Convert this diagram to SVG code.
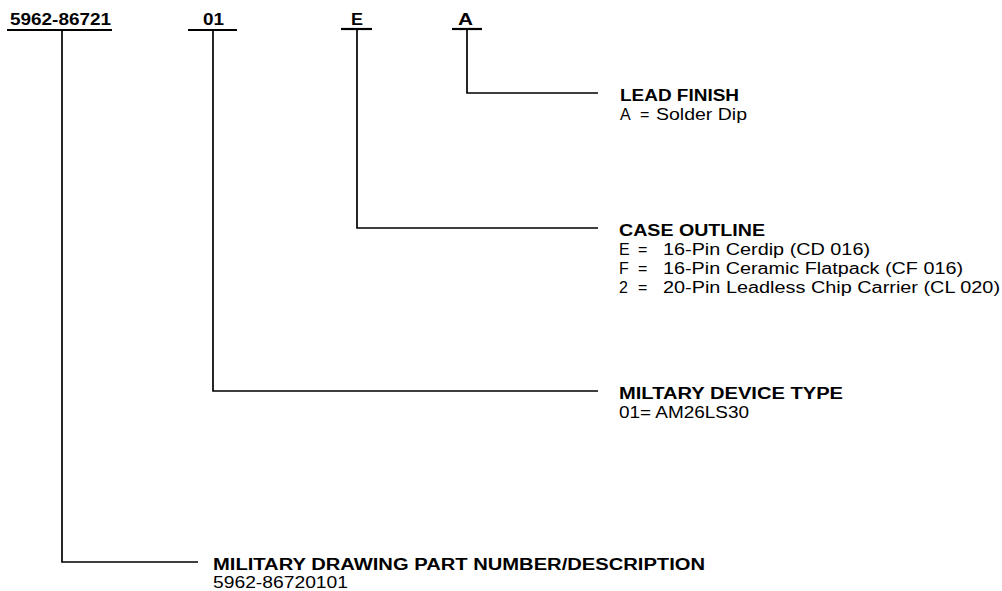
<svg xmlns="http://www.w3.org/2000/svg" width="1002" height="591" viewBox="0 0 1002 591">
<style>
text{font-family:"Liberation Sans",Arial,sans-serif;font-size:16px;fill:#000}
.b{font-weight:bold}
.ul{stroke:#000;stroke-width:2.2;fill:none}
.cn{stroke:#000;stroke-width:1.7;fill:none}
</style>
<rect width="1002" height="591" fill="#fff"/>
<g id="field-part">
<text class="b" x="10" y="25" textLength="101" lengthAdjust="spacingAndGlyphs">5962-86721</text>
<line class="ul" x1="7" y1="30" x2="112" y2="30"/>
</g>
<g id="field-type">
<text class="b" x="203" y="25" textLength="21" lengthAdjust="spacingAndGlyphs">01</text>
<line class="ul" x1="188" y1="30" x2="237" y2="30"/>
</g>
<g id="field-case">
<text class="b" x="351" y="25" textLength="12" lengthAdjust="spacingAndGlyphs">E</text>
<line class="ul" x1="341" y1="29" x2="372" y2="29"/>
</g>
<g id="field-finish">
<text class="b" x="458" y="25" textLength="15" lengthAdjust="spacingAndGlyphs">A</text>
<line class="ul" x1="452" y1="29" x2="482" y2="29"/>
</g>
<g id="connectors">
<path class="cn" d="M467 29V93H598"/>
<path class="cn" d="M357 29V228H598"/>
<path class="cn" d="M213 30V391H598"/>
<path class="cn" d="M62 30V562H198"/>
</g>
<g id="lead-finish">
<text class="b" x="620" y="101" textLength="119" lengthAdjust="spacingAndGlyphs">LEAD FINISH</text>
<text y="120"><tspan x="620">A</tspan><tspan x="640">=</tspan><tspan x="656" textLength="91" lengthAdjust="spacingAndGlyphs">Solder Dip</tspan></text>
</g>
<g id="case-outline">
<text class="b" x="619" y="236" textLength="146" lengthAdjust="spacingAndGlyphs">CASE OUTLINE</text>
<text y="255"><tspan x="619">E</tspan><tspan x="638">=</tspan><tspan x="663" textLength="207" lengthAdjust="spacingAndGlyphs">16-Pin Cerdip (CD 016)</tspan></text>
<text y="274"><tspan x="619">F</tspan><tspan x="638">=</tspan><tspan x="663" textLength="300" lengthAdjust="spacingAndGlyphs">16-Pin Ceramic Flatpack (CF 016)</tspan></text>
<text y="293"><tspan x="619">2</tspan><tspan x="638">=</tspan><tspan x="663" textLength="337" lengthAdjust="spacingAndGlyphs">20-Pin Leadless Chip Carrier (CL 020)</tspan></text>
</g>
<g id="device-type">
<text class="b" x="619" y="399" textLength="224" lengthAdjust="spacingAndGlyphs">MILTARY DEVICE TYPE</text>
<text x="619" y="418" textLength="130" lengthAdjust="spacingAndGlyphs">01= AM26LS30</text>
</g>
<g id="drawing-number">
<text class="b" x="213" y="570" textLength="492" lengthAdjust="spacingAndGlyphs">MILITARY DRAWING PART NUMBER/DESCRIPTION</text>
<text x="213" y="588" textLength="135" lengthAdjust="spacingAndGlyphs">5962-86720101</text>
</g>
</svg>
